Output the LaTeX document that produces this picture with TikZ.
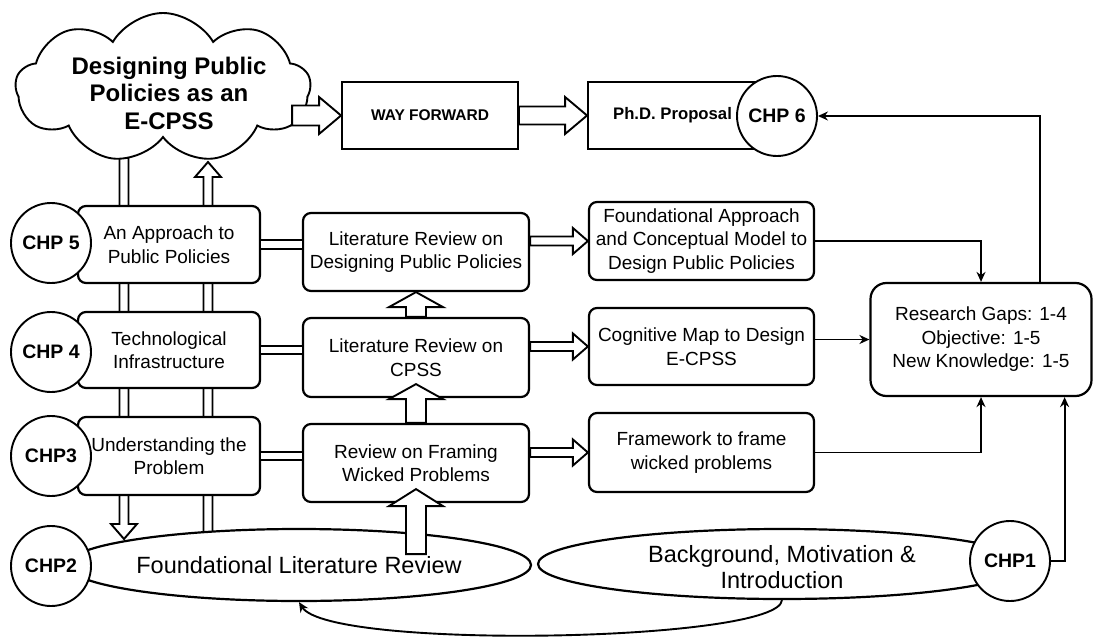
\documentclass[tikz,border=0pt]{standalone}
\usepackage{fontspec}
\setmainfont{Liberation Sans}
\usetikzlibrary{shapes.symbols,shapes.geometric,calc,arrows.meta}

% hollow block arrow: [opts]{from}{to}{shaft half width}{head half width}{head length}
\newcommand{\blockarrow}[6][]{%
  \coordinate (bahd) at ($(#3)!#6!(#2)$);
  \draw[hollow,#1] ($(#2)!#4!90:(#3)$) -- ($(bahd)!#4!90:(#3)$) -- ($(bahd)!#5!90:(#3)$) -- (#3)
     -- ($(bahd)!#5!-90:(#3)$) -- ($(bahd)!#4!-90:(#3)$) -- ($(#2)!#4!-90:(#3)$) -- cycle;}

\tikzset{
  box/.style={draw, rounded corners=8pt, line width=2.2pt, fill=white, align=center,
              font=\fontsize{19}{23.5}\selectfont, inner sep=0pt},
  chp/.style={draw, circle, line width=1.9pt, fill=white, minimum size=80pt, inner sep=0pt,
              font=\bfseries\fontsize{19.5}{23}\selectfont},
  hollow/.style={draw, fill=white, line width=1.9pt, line join=miter},
  dline/.style={double, double distance=6.5pt, line width=1.9pt},
  link/.style={line width=1.9pt, -{Stealth[length=10pt,width=9pt]}},
  oval/.style={draw, ellipse, line width=2.2pt, fill=white, inner sep=0pt},
  bigtext/.style={align=center, font=\fontsize{23.5}{26}\selectfont},
  sqbox/.style={draw, rectangle, line width=1.9pt, fill=white, inner sep=0pt, minimum height=67pt}
}

\begin{document}
\begin{tikzpicture}[x=1pt,y=-1pt]
\useasboundingbox (0,0) rectangle (1094,639);

% long vertical hollow arrows behind the left column
\coordinate (lat) at (124,158);
\coordinate (lab) at (124,539);
\coordinate (rab) at (208,533);
\coordinate (rat) at (208,162);
\blockarrow{lat}{lab}{4.5pt}{13pt}{15pt}
\blockarrow{rab}{rat}{4.5pt}{13pt}{15pt}

% cloud
\node[cloud, draw, line width=1.9pt, fill=white, cloud puffs=9, cloud puff arc=120, aspect=2,
      minimum width=295pt, minimum height=150pt, inner sep=0pt] (cloud) at (163,88) {};
\node[align=center, font=\bfseries\fontsize{24}{27.5}\selectfont] (cloudt) at (169,93)
  {Designing Public\\Policies as an\\E-CPSS};

% top row
\node[sqbox, minimum width=176pt, font=\bfseries\fontsize{15.5}{18}\selectfont] (WF) at (430,115.5) {WAY FORWARD};
\node[sqbox, minimum width=189pt, font=\bfseries\fontsize{16.7}{19}\selectfont] (PhD) at (682.5,115.5) {Ph.D. Proposal\kern20pt};
\coordinate (cs) at ($(WF.west)+(-49,0)$);
\blockarrow{cs}{WF.west}{10pt}{18.5pt}{22pt}
\blockarrow{WF.east}{PhD.west}{9pt}{18.5pt}{22pt}
\node[chp] (chp6) at (777,116) {CHP 6};

% left column
\node[box, minimum width=182pt, minimum height=77pt] (b5) at (169,244.5) {An Approach to\\Public Policies};
\node[box, minimum width=182pt, minimum height=76pt] (b4) at (169,350) {Technological\\Infrastructure};
\node[box, minimum width=182pt, minimum height=78pt] (b3) at (169,456) {Understanding the\\Problem};
\node[chp] (chp5) at (51,243) {CHP 5};
\node[chp] (chp4) at (51,352) {CHP 4};
\node[chp] (chp3) at (51,456) {CHP3};

% middle column
\node[box, minimum width=226pt, minimum height=78pt] (m1) at (416,252) {Literature Review on\\Designing Public Policies};
\node[box, minimum width=226pt, minimum height=79pt] (m2) at (416,357.5) {Literature Review on\\CPSS};
\node[box, minimum width=226pt, minimum height=78pt] (m3) at (416,463) {Review on Framing\\Wicked Problems};

% right column
\node[box, minimum width=225pt, minimum height=78pt] (r1) at (701.5,241) {Foundational Approach\\and Conceptual Model to\\Design Public Policies};
\node[box, minimum width=225pt, minimum height=77pt] (r2) at (701.5,346.5) {Cognitive Map to Design\\E-CPSS};
\node[box, minimum width=225pt, minimum height=79pt] (r3) at (701.5,452.5) {Framework to frame\\wicked problems};

\node[box, rounded corners=16pt, minimum width=221pt, minimum height=113pt] (rg) at (981,339.5)
  {Research Gaps: 1-4\\Objective: 1-5\\New Knowledge: 1-5};

% bottom ellipses
\node[oval, minimum width=464pt, minimum height=72pt] (fl) at (299,565) {};
\node[bigtext] (flt) at (299,565) {Foundational Literature Review};
\node[oval, minimum width=488pt, minimum height=70pt] (bg) at (782,564) {};
\node[bigtext] (bgt) at (782,567) {Background, Motivation \&\\Introduction};
\node[chp] (chp2) at (51,566) {CHP2};
\node[chp] (chp1) at (1010,561) {CHP1};

% left -> middle double lines
\draw[dline] (b5.east) -- (b5.east -| m1.west);
\draw[dline] (b4.east) -- (b4.east -| m2.west);
\draw[dline] (b3.east) -- (b3.east -| m3.west);

% middle -> right hollow arrows
\coordinate (c1) at (m1.east |- r1.west);
\coordinate (c2) at (m2.east |- r2.west);
\coordinate (c3) at (m3.east |- r3.west);
\blockarrow{c1}{r1.west}{4.5pt}{13pt}{15pt}
\blockarrow{c2}{r2.west}{4.5pt}{13pt}{15pt}
\blockarrow{c3}{r3.west}{4.5pt}{13pt}{15pt}

% vertical hollow arrows in middle column
\coordinate (m2tip) at ($(m2.south)+(0,-14)$);
\coordinate (m3tip) at ($(m3.south)+(0,-14)$);
\coordinate (flup) at ($(m3.south)+(0,51)$);
\blockarrow{m2.north}{m1.south}{10pt}{27pt}{15pt}
\blockarrow{m3.north}{m2tip}{10pt}{27pt}{15pt}
\blockarrow{flup}{m3tip}{10pt}{27pt}{17pt}

% thin connectors
\draw[link] (r1.east) -| (rg.north);
\draw[link] (rg.west -| r2.east) -- (rg.west);
\draw[link] (r3.east) -| (rg.south);
\coordinate (rgb) at ($(rg.south east)+(-28,0)$);
\draw[link] (chp1.east) -| (rgb);
\coordinate (rgt) at ($(rg.north east)+(-53,0)$);
\draw[link] (rgt) |- (chp6.east);
\draw[link] (bg.south) .. controls ($(bg.south)+(-3,42)$) and ($(fl.south)+(30,48)$) .. (fl.south);
\end{tikzpicture}
\end{document}
